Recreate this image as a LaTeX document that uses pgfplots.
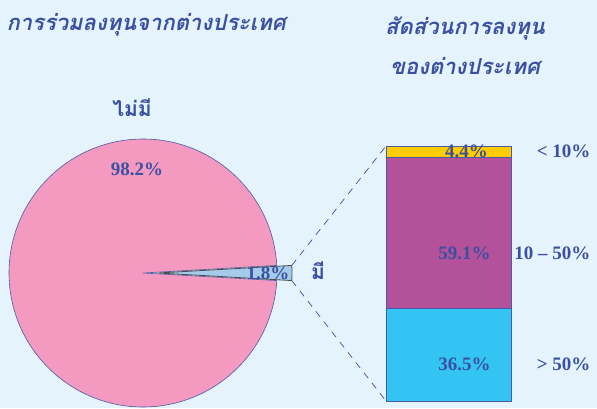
\documentclass[border=0pt]{standalone}
\usepackage{fontspec}
\setmainfont{Liberation Serif}
\newfontfamily\thaifont[Script=Thai]{Loma}
\usepackage{pgfplots}
\pgfplotsset{compat=1.18}

\definecolor{bg}{HTML}{E5F3FC}
\definecolor{txt}{HTML}{3A50A0}
\definecolor{edgec}{HTML}{4A5AA8}
\definecolor{pinkc}{HTML}{F49AC1}
\definecolor{slicec}{HTML}{A5CBEA}
\definecolor{goldc}{HTML}{FFCC00}
\definecolor{purplec}{HTML}{B4519B}
\definecolor{cyanc}{HTML}{33C4F3}

\tikzset{
  num/.style={font=\bfseries\fontsize{19}{21}\selectfont, text=txt},
  thai/.style={font=\thaifont\bfseries\fontsize{21}{24}\selectfont, text=txt},
  ttl/.style={font=\thaifont\bfseries\itshape\fontsize{22}{24}\selectfont, text=txt},
}

% pie data (percent)
\def\pieNo{98.2}
\def\pieYes{1.8}

\begin{document}
\begin{tikzpicture}[x=1pt,y=1pt]
\fill[bg] (0,0) rectangle (597,408);
\useasboundingbox (0,0) rectangle (597,408);
\pgfmathsetmacro\ha{\pieYes*1.8}

% titles
\node[ttl, anchor=base west] at (3,377) {การร่วมลงทุนจากต่างประเทศ};
\node[ttl, anchor=base] at (465,373) {สัดส่วนการลงทุน};
\node[ttl, anchor=base] at (465,334) {ของต่างประเทศ};

% pie
\begin{axis}[at={(0pt,0pt)}, anchor=origin, x=1pt, y=1pt,
  xmin=0, xmax=597, ymin=0, ymax=408, hide axis, clip=false, disabledatascaling]
\filldraw[fill=pinkc, draw=edgec, line width=0.6pt]
  (axis cs:143,135) -- ++(\ha:134pt) arc[start angle=\ha, end angle={360-\ha}, radius=134pt] -- cycle;
\filldraw[fill=slicec, draw=black!70, line width=0.8pt]
  (axis cs:158,135) -- ++(-\ha:134pt) arc[start angle=-\ha, end angle=\ha, radius=134pt] -- cycle;
\draw[txt, line width=0.7pt, dash pattern=on 7pt off 6pt]
  (axis cs:158,135) ++(\ha:134pt) -- (axis cs:386,262);
\draw[txt, line width=0.7pt, dash pattern=on 7pt off 6pt]
  (axis cs:158,135) ++(-\ha:134pt) -- (axis cs:386,7);
\node[thai] at (axis cs:132,300) {ไม่มี};
\node[num] at (axis cs:137,239) {98.2\%};
\node[num] at (axis cs:268,135) {1.8\%};
\node[thai] at (axis cs:318,137) {มี};
\end{axis}

% stacked bar of the "yes" share
\begin{axis}[at={(448.5pt,7pt)}, anchor=origin, x=100pt, y=2.55pt,
  xmin=-1, xmax=1, ymin=0, ymax=100, ybar stacked, bar width=125pt,
  hide axis, clip=false]
\addplot[fill=cyanc, draw=edgec, line width=0.6pt] coordinates {(0,36.5)};
\addplot[fill=purplec, draw=edgec, line width=0.6pt] coordinates {(0,59.1)};
\addplot[fill=goldc, draw=edgec, line width=0.6pt] coordinates {(0,4.4)};
\coordinate (lA) at (axis cs:0.16,14.5);
\coordinate (lB) at (axis cs:0.16,58);
\coordinate (lC) at (axis cs:0.18,97.8);
\coordinate (rA) at (axis cs:1.455,14.5);
\coordinate (rB) at (axis cs:1.455,58);
\coordinate (rC) at (axis cs:1.455,97.8);
\end{axis}
\node[num] at (lA) {36.5\%};
\node[num] at (lB) {59.1\%};
\node[num] at (lC) {4.4\%};
\node[num, anchor=east] at (rA) {> 50\%};
\node[num, anchor=east] at (rB) {10 – 50\%};
\node[num, anchor=east] at (rC) {< 10\%};
\end{tikzpicture}
\end{document}
